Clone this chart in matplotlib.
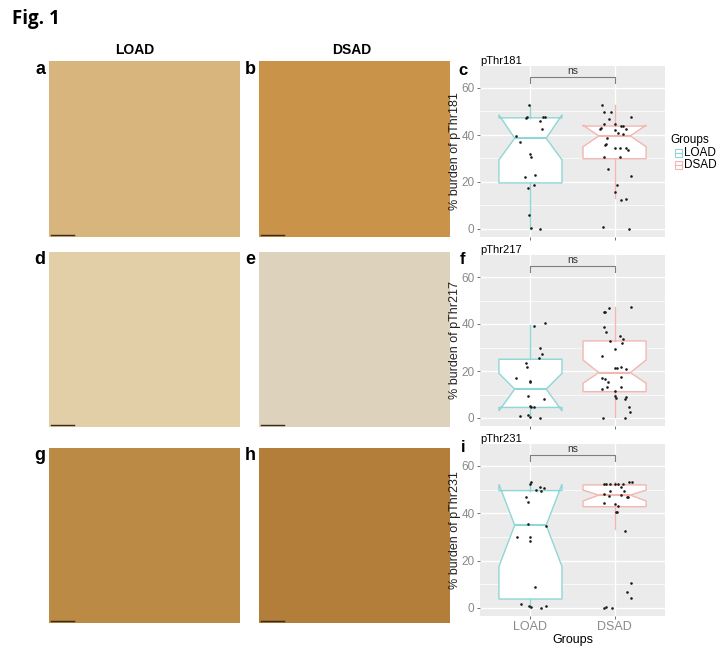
import matplotlib
matplotlib.use("Agg")
import matplotlib.pyplot as plt
from matplotlib.patches import Rectangle

W, H = 726, 656
plt.rcParams['font.family'] = ['Liberation Sans', 'DejaVu Sans']

# ---- data ----
groups = ["LOAD", "DSAD"]
markers = ["pThr181", "pThr217", "pThr231"]

# box stats per marker: [LOAD, DSAD] (q1, med, q3, cilo, cihi, whislo, whishi)
box_stats = {
    "pThr181": [(19.6, 38.6, 47.3, 29.4, 48.6, 0.0, 52.8),
                (29.9, 39.6, 43.8, 35.0, 44.2, 13.2, 52.8)],
    "pThr217": [(4.5, 12.3, 25.0, 3.0, 19.0, 0.0, 39.6),
                (11.2, 19.3, 32.8, 14.8, 24.7, 0.3, 47.4)],
    "pThr231": [(3.8, 35.0, 49.6, 17.5, 52.3, 0.0, 53.1),
                (42.8, 47.7, 52.0, 45.2, 49.8, 33.4, 53.1)],
}

# jittered points: (offset from group centre, value)
pts_181_load = [(-0.02, 52.8), (-0.04, 47.8), (-0.05, 47.2), (0.11, 45.9), (0.15, 47.7),
                (0.17, 47.5), (0.14, 42.5), (-0.17, 39.7), (-0.13, 37.2), (0.0, 31.8),
                (0.01, 30.8), (-0.06, 22.3), (0.05, 23.0), (-0.03, 17.6), (0.04, 18.7),
                (-0.02, 5.8), (0.01, 0.3), (0.11, 0.2)]
pts_181_dsad = [(-0.15, 52.8), (-0.12, 49.9), (-0.04, 49.6), (0.20, 47.8), (-0.07, 46.7),
                (-0.13, 44.7), (0.0, 44.7), (0.08, 43.8), (0.10, 43.8), (0.14, 42.5),
                (-0.17, 42.5), (-0.16, 43.0), (0.0, 42.1), (0.04, 40.7), (0.10, 40.5),
                (-0.09, 38.7), (-0.10, 36.2), (-0.11, 35.8), (0.0, 34.3), (0.07, 34.3),
                (0.14, 34.3), (0.16, 33.8), (-0.12, 30.8), (0.06, 30.8), (-0.08, 25.5),
                (0.19, 22.7), (0.03, 18.7), (0.0, 15.9), (0.08, 12.3), (0.14, 12.6),
                (-0.14, 1.0), (0.17, 0.2)]
pts_217_load = [(0.04, 39.3), (0.17, 40.6), (0.11, 29.9), (0.14, 27.2), (0.10, 25.7),
                (-0.05, 23.5), (-0.04, 21.8), (-0.17, 17.2), (-0.01, 15.7), (0.0, 15.5),
                (-0.03, 9.4), (0.16, 8.0), (-0.01, 5.2), (0.01, 4.8), (0.04, 4.8),
                (-0.13, 1.0), (-0.03, 1.2), (0.0, 0.5), (0.11, 0.2)]
pts_217_dsad = [(-0.07, 46.7), (-0.12, 45.2), (-0.11, 45.0), (0.20, 47.4), (-0.13, 38.9),
                (-0.10, 36.5), (0.07, 35.0), (0.10, 33.5), (-0.06, 32.9), (0.09, 31.8),
                (0.0, 29.2), (-0.15, 26.4), (0.01, 21.1), (0.03, 21.3), (0.08, 21.7),
                (0.14, 20.7), (0.08, 17.6), (-0.15, 16.9), (-0.11, 16.7), (-0.08, 15.5),
                (-0.09, 13.1), (-0.15, 12.3), (0.08, 13.3), (0.0, 11.6), (0.01, 9.4),
                (0.02, 8.4), (0.14, 9.0), (0.13, 8.2), (0.17, 4.8), (0.18, 2.7),
                (-0.14, 0.2), (0.13, 0.2)]
pts_231_load = [(0.01, 53.1), (0.0, 52.3), (0.11, 51.3), (0.16, 50.9), (0.06, 49.9),
                (0.13, 49.4), (-0.05, 47.0), (-0.03, 44.9), (-0.03, 35.5), (0.18, 34.6),
                (-0.16, 29.9), (0.0, 29.8), (-0.01, 28.3), (0.05, 9.0), (-0.11, 1.7),
                (-0.02, 1.0), (0.01, 0.6), (0.12, 0.1), (0.18, 0.9)]
pts_231_dsad = [(-0.13, 52.2), (-0.10, 52.4), (-0.06, 52.4), (0.0, 52.3), (0.04, 52.2),
                (0.10, 52.2), (0.17, 53.1), (0.21, 53.1), (0.08, 51.3), (-0.06, 49.4),
                (0.11, 49.5), (-0.13, 48.2), (-0.07, 47.5), (0.08, 47.7), (0.15, 47.0),
                (0.16, 46.7), (-0.13, 44.5), (0.01, 43.9), (0.04, 43.2), (0.02, 40.7),
                (0.03, 40.5), (0.12, 32.7), (0.19, 10.4), (0.15, 6.6), (0.19, 4.1),
                (-0.12, 0.1), (-0.10, 0.3), (-0.03, 0.1)]
points = {
    "pThr181": [pts_181_load, pts_181_dsad],
    "pThr217": [pts_217_load, pts_217_dsad],
    "pThr231": [pts_231_load, pts_231_dsad],
}

# mean tone of each micrograph
img_colors = {"a": "#d8b57c", "b": "#c9944a", "d": "#e2cfa8",
              "e": "#ddd2bc", "g": "#bb8a45", "h": "#b37d3a"}

group_colors = ["#8fd6d6", "#f3b6b1"]


def px_axes(x0, y0, x1, y1):
    return fig.add_axes([x0 / W, 1 - y1 / H, (x1 - x0) / W, (y1 - y0) / H])


fig = plt.figure(figsize=(W / 100, H / 100), dpi=100)

fig.text(12 / W, 1 - 19 / H, "Fig. 1", fontsize=13.5, fontweight="bold",
         family="Open Sans", va="center", ha="left")
fig.text(135 / W, 1 - 50 / H, "LOAD", fontsize=10, fontweight="bold", ha="center", va="center")
fig.text(352 / W, 1 - 50 / H, "DSAD", fontsize=10, fontweight="bold", ha="center", va="center")

# micrograph panels
rows_y = [(61, 237), (252, 427), (448, 623)]
cols_x = [(49, 240), (259, 450)]
letters = [["a", "b"], ["d", "e"], ["g", "h"]]
for r, (y0, y1) in enumerate(rows_y):
    for c, (x0, x1) in enumerate(cols_x):
        lt = letters[r][c]
        ax = px_axes(x0, y0, x1, y1)
        ax.add_patch(Rectangle((0, 0), 1, 1, color=img_colors[lt]))
        ax.plot([0.01, 0.13], [0.01, 0.01], color="#3a2a1a", lw=1)
        ax.set_xlim(0, 1)
        ax.set_ylim(0, 1)
        ax.axis("off")
        fig.text((x0 - 9) / W, 1 - (y0 + 8) / H, lt, fontsize=13, fontweight="bold",
                 ha="center", va="center")

# box plots
plot_y0 = [229, 418, 608]
plot_scale = [2.35, 2.35, 2.367]
ylo, yhi = -3.3, 69.3
box_letters = ["c", "f", "i"]
for k, m in enumerate(markers):
    top = plot_y0[k] - yhi * plot_scale[k]
    bot = plot_y0[k] - ylo * plot_scale[k]
    ax = px_axes(480, top, 665, bot)
    ax.set_facecolor("#ebebeb")
    for s in ax.spines.values():
        s.set_visible(False)
    for v in [10, 30, 50]:
        ax.axhline(v, color="white", lw=0.5, zorder=0)
    for v in [0, 20, 40, 60]:
        ax.axhline(v, color="white", lw=1.0, zorder=0)
    for v in [1, 2]:
        ax.axvline(v, color="white", lw=1.0, zorder=0)

    stats = []
    for g in range(2):
        q1, med, q3, cilo, cihi, wlo, whi = box_stats[m][g]
        stats.append(dict(q1=q1, med=med, q3=q3, cilo=cilo, cihi=cihi,
                          whislo=wlo, whishi=whi, fliers=[]))
    bp = ax.bxp(stats, positions=[1, 2], widths=0.75, shownotches=True,
                patch_artist=True, showcaps=False, showfliers=False)
    for g in range(2):
        bp["boxes"][g].set_facecolor("white")
        bp["boxes"][g].set_edgecolor(group_colors[g])
        bp["boxes"][g].set_linewidth(1.0)
        bp["medians"][g].set_color(group_colors[g])
        bp["medians"][g].set_linewidth(1.5)
        for wk in bp["whiskers"][2 * g:2 * g + 2]:
            wk.set_color(group_colors[g])
            wk.set_linewidth(1.0)

    for g in range(2):
        xs = [g + 1 + d for d, v in points[m][g]]
        ys = [v for d, v in points[m][g]]
        ax.scatter(xs, ys, s=3.5, color="#1a1a1a", zorder=5, linewidths=0)

    # significance bracket
    ax.plot([1, 1, 2, 2], [62, 64.7, 64.7, 62], color="#7f7f7f", lw=0.8)
    ax.text(1.5, 65.0, "ns", ha="center", va="bottom", fontsize=7.5, color="#333333")

    ax.set_xlim(0.4, 2.6)
    ax.set_ylim(ylo, yhi)
    ax.set_yticks([0, 20, 40, 60])
    ax.tick_params(axis="y", labelsize=8.5, colors="#5a5a5a", length=2.5, width=0.6,
                   labelcolor="#8a8a8a", pad=1.5)
    ax.set_ylabel("% burden of " + m, fontsize=9, color="#222222", labelpad=0)
    if k == 2:
        ax.set_xticks([1, 2])
        ax.set_xticklabels(groups)
        ax.tick_params(axis="x", labelsize=9, colors="#5a5a5a", length=2.5, width=0.6,
                       labelcolor="#8a8a8a", pad=1.5)
        ax.set_xlabel("Groups", fontsize=9, labelpad=0.5)
    else:
        ax.set_xticks([1, 2])
        ax.set_xticklabels([])
        ax.tick_params(axis="x", length=2.5, width=0.6, colors="#5a5a5a")
    fig.text(480 / W, 1 - (top - 5) / H, m, fontsize=8, ha="left", va="center")
    fig.text(463 / W, 1 - (top + 4) / H, box_letters[k], fontsize=12, fontweight="bold",
             ha="center", va="center")

# legend
fig.text(670 / W, 1 - 140 / H, "Groups", fontsize=8.5, ha="left", va="center")
lax = px_axes(665, 146, 726, 172)
lax.set_xlim(665, 726)
lax.set_ylim(172, 146)
lax.axis("off")
for g, yy in enumerate([152.5, 164.5]):
    lax.add_patch(Rectangle((675, yy - 4), 7, 8, facecolor="white",
                            edgecolor=group_colors[g], lw=0.8))
    lax.plot([675, 682], [yy, yy], color=group_colors[g], lw=0.8)
    lax.text(684, yy, groups[g], fontsize=8.5, va="center", ha="left")

fig.savefig("out.png", dpi=100)
